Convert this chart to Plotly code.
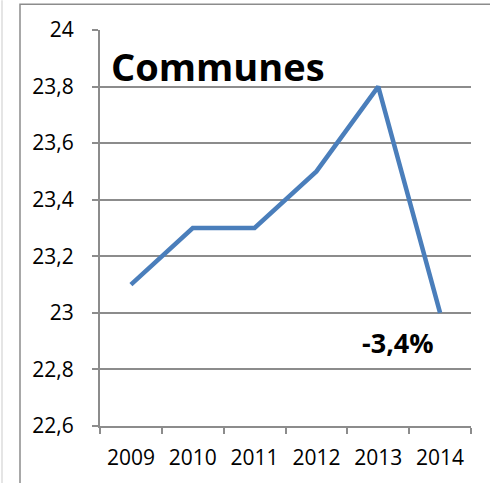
import plotly.graph_objects as go

years = ["2009", "2010", "2011", "2012", "2013", "2014"]
values = [23.1, 23.3, 23.3, 23.5, 23.8, 23.0]
y_ticks = [22.6, 22.8, 23.0, 23.2, 23.4, 23.6, 23.8, 24.0]
y_tick_labels = ["22,6", "22,8", "23", "23,2", "23,4", "23,6", "23,8", "24"]
title_text = "Communes"
change_text = "-3,4%"

W, H = 490, 483
L, R, T, B = 100, 19, 30, 55
pw, ph = W - L - R, H - T - B

def px_to_paper_x(px):
    return (px - L) / pw

def px_to_paper_y(py):
    return (H - B - py) / ph

fig = go.Figure()
fig.add_trace(go.Scatter(
    x=years, y=values, mode="lines",
    line=dict(color="#4A7EBB", width=4.5),
    hoverinfo="skip",
))

grid_color = "#8C8C8C"
font_family = "Open Sans"

fig.update_layout(
    width=W, height=H,
    margin=dict(l=L, r=R, t=T, b=B),
    paper_bgcolor="white", plot_bgcolor="white",
    showlegend=False,
    xaxis=dict(
        type="category", range=[-0.5, 5.5],
        tickson="boundaries", ticks="outside", ticklen=6, tickwidth=1.5, tickcolor=grid_color,
        showline=True, linecolor=grid_color, linewidth=2,
        showgrid=False, zeroline=False,
        ticklabelstandoff=12,
        tickfont=dict(family=font_family, size=21, color="black"),
    ),
    yaxis=dict(
        range=[22.6, 24.0],
        tickvals=y_ticks, ticktext=y_tick_labels,
        ticks="outside", ticklen=6, tickwidth=1.5, tickcolor=grid_color,
        showline=True, linecolor=grid_color, linewidth=2,
        showgrid=True, gridcolor=grid_color, gridwidth=1.5,
        zeroline=False,
        ticklabelstandoff=14,
        tickfont=dict(family=font_family, size=21, color="black"),
    ),
    font=dict(family=font_family),
)

# outer chart border (clipped at right/bottom like the reference)
fig.add_shape(type="rect", xref="paper", yref="paper",
              x0=px_to_paper_x(20), x1=px_to_paper_x(500),
              y0=px_to_paper_y(500), y1=px_to_paper_y(4),
              line=dict(color="#8C8C8C", width=1.5), layer="below")
fig.add_shape(type="line", xref="paper", yref="paper",
              x0=px_to_paper_x(2), x1=px_to_paper_x(2),
              y0=px_to_paper_y(500), y1=px_to_paper_y(0),
              line=dict(color="#DDDDDD", width=1.5), layer="below")

fig.add_annotation(text="<b>%s</b>" % title_text, xref="paper", yref="paper",
                   x=px_to_paper_x(109), y=px_to_paper_y(66),
                   xanchor="left", yanchor="middle", showarrow=False,
                   font=dict(family=font_family, size=38, color="black"))
fig.add_annotation(text="<b>%s</b>" % change_text, xref="paper", yref="paper",
                   x=px_to_paper_x(398), y=px_to_paper_y(344),
                   xanchor="center", yanchor="middle", showarrow=False,
                   font=dict(family=font_family, size=27, color="black"))

fig.write_html("out.html", config={"displayModeBar": False},
               post_script="document.body.style.margin='0';document.body.style.overflow='hidden';")
